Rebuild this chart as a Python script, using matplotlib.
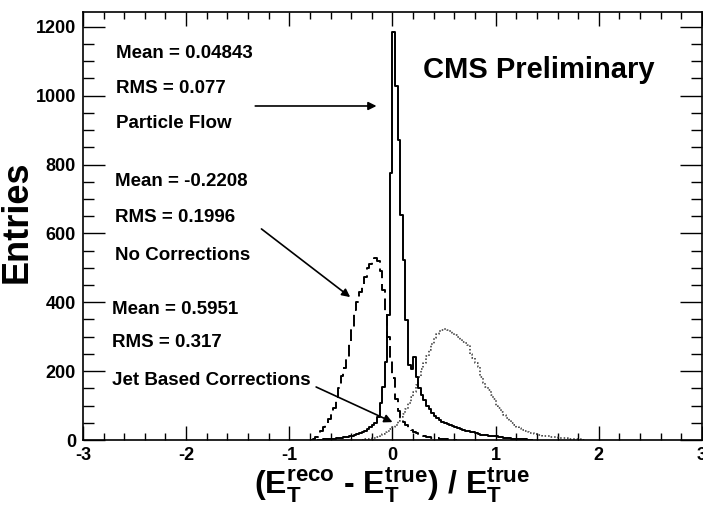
import numpy as np
import matplotlib.pyplot as plt
from matplotlib.ticker import MultipleLocator

plt.rcParams["font.family"] = ["Liberation Sans", "DejaVu Sans"]
plt.rcParams["font.weight"] = "bold"
plt.rcParams["axes.unicode_minus"] = False
plt.rcParams["mathtext.fontset"] = "custom"
plt.rcParams["mathtext.rm"] = "Liberation Sans:bold"
plt.rcParams["mathtext.bf"] = "Liberation Sans:bold"
plt.rcParams["mathtext.it"] = "Liberation Sans:bold"

bin_width = 0.025

# Particle Flow (solid), first bin starts at -0.725
pf_start = -0.725
pf_counts = [1, 1, 2, 2, 3, 3, 4, 5, 6, 7, 8, 9, 11, 13, 15, 18, 21, 24, 27, 32,
             38, 44, 50, 68, 107, 155, 228, 363, 775,
             1186, 1028, 872, 654, 523, 349, 218, 205, 242, 184, 151, 131, 115, 100,
             90, 78, 70, 64, 58, 52, 49, 46, 44, 40, 37, 35, 31, 29, 27, 25, 23, 22,
             20, 18, 16, 15, 14, 13, 13, 12, 11, 9, 8, 7, 6, 5, 4, 4, 3, 3, 2, 2, 1, 1]

# No Corrections (dashed), first bin starts at -0.8
nc_start = -0.8
nc_counts = [1, 4, 10, 18, 26, 38, 50, 62, 78, 92, 116, 150, 185, 210, 240, 282,
             320, 378, 400, 430, 450, 474, 500, 512, 522, 528, 520, 490, 436, 368,
             300, 242, 180, 120, 85, 65, 52, 44, 36, 29, 24, 20, 17, 15, 12, 10, 8,
             7, 6, 5, 4, 3, 3, 2, 2, 1, 1]

# Jet Based Corrections (dotted), first bin starts at -0.3
jb_start = -0.3
jb_counts = [1, 2, 3, 4, 5, 7, 10, 14, 18, 22, 26, 31, 37, 45, 55, 68, 75, 90, 108,
             126, 140, 160, 184, 205, 225, 245, 261, 280, 295, 308, 318, 320, 322,
             320, 316, 312, 305, 298, 292, 286, 281, 276, 250, 238, 223, 213, 184,
             165, 155, 145, 130, 118, 100, 92, 80, 73, 65, 58, 50, 44, 39, 34, 29,
             26, 23, 21, 19, 17, 15, 14, 13, 12, 11, 10, 9, 8, 7, 6, 5, 5, 4, 3, 3,
             2, 2, 1, 1]

# faint red histogram lying on the axis
red_start = -0.5
red_counts = [1] * 62

labels_pf = ["Mean = 0.04843", "RMS = 0.077", "Particle Flow"]
labels_nc = ["Mean = -0.2208", "RMS = 0.1996", "No Corrections"]
labels_jb = ["Mean = 0.5951", "RMS = 0.317", "Jet Based Corrections"]


def step_hist(ax, start, counts, **kw):
    edges = start + bin_width * np.arange(len(counts) + 1)
    vals = np.concatenate([[0], counts, [0]])
    xs = np.concatenate([[edges[0]], edges])
    ax.step(xs, vals, where="post", **kw)


fig = plt.figure(figsize=(7.03, 5.12), dpi=100)
ax = fig.add_axes([0.118, 0.1406, 0.8806, 0.836])

step_hist(ax, red_start, red_counts, color="#8b1a1a", lw=1.0)
step_hist(ax, jb_start, jb_counts, color="#333333", lw=1.1, linestyle=(0, (1, 1.3)))
step_hist(ax, nc_start, nc_counts, color="black", lw=1.4, linestyle=(0, (6, 3)))
step_hist(ax, pf_start, pf_counts, color="black", lw=1.4)

ax.set_xlim(-3, 3)
ax.set_ylim(0, 1243)

ax.xaxis.set_major_locator(MultipleLocator(1))
ax.xaxis.set_minor_locator(MultipleLocator(0.2))
ax.yaxis.set_major_locator(MultipleLocator(200))
ax.yaxis.set_minor_locator(MultipleLocator(50))
ax.tick_params(axis="x", which="major", direction="in", length=10, width=1,
               top=True, labelsize=13, pad=5)
ax.tick_params(axis="x", which="minor", direction="in", length=5, width=1, top=True)
ax.tick_params(axis="y", which="major", direction="in", length=16, width=1,
               right=True, labelsize=13, pad=5)
ax.tick_params(axis="y", which="minor", direction="in", length=8, width=1, right=True)
for lab in ax.get_xticklabels() + ax.get_yticklabels():
    lab.set_fontweight("bold")
for sp in ax.spines.values():
    sp.set_linewidth(1.2)

ax.set_ylabel("Entries", fontsize=26, fontweight="bold")
ax.yaxis.set_label_coords(-0.078, 0.51)
ax.set_xlabel(r"(E$_{T}^{reco}$ - E$_{T}^{true}$) / E$_{T}^{true}$",
              fontsize=23, fontweight="bold", labelpad=1)

for ys, xs, labs in [([1121, 1020, 918], -2.68, labels_pf),
                     ([752, 645, 537], -2.69, labels_nc),
                     ([380, 282, 174], -2.72, labels_jb)]:
    for y, t in zip(ys, labs):
        ax.text(xs, y, t, fontsize=13.5, fontweight="bold", va="center", ha="left")

arrow = dict(arrowstyle="-|>", color="black", lw=1.2, mutation_scale=12,
             shrinkA=0, shrinkB=0)
ax.annotate("", xy=(-0.155, 970), xytext=(-1.33, 970), arrowprops=arrow)
ax.annotate("", xy=(-0.41, 415), xytext=(-1.27, 613), arrowprops=arrow)
ax.annotate("", xy=(0.0, 52), xytext=(-0.74, 154), arrowprops=arrow)

ax.text(0.30, 1075, "CMS Preliminary", fontsize=21, fontweight="bold",
        va="center", ha="left")

fig.savefig("out.png", dpi=100)
